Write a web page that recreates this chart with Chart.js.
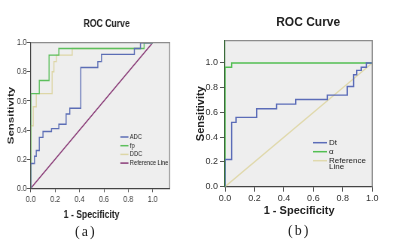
<!DOCTYPE html>
<html>
<head>
<meta charset="utf-8">
<script src="https://cdn.jsdelivr.net/npm/chart.js@4.4.1/dist/chart.umd.min.js"></script>
<style>
  body { margin:0; background:#fff; width:400px; height:243px; overflow:hidden; position:relative; }
  .box { position:absolute; }
  .lab { position:absolute; font-family:"Liberation Serif", "Times New Roman", serif; font-size:14px; color:#222; letter-spacing:2px; }
</style>
</head>
<body>
<!-- panel (a) is a horizontally squeezed SPSS chart in the source, so render wide and squeeze -->
<div class="box" style="left:0;top:0;width:266.7px;height:225px;transform:scaleX(0.75);transform-origin:0 0"><canvas id="rocA"></canvas></div>
<div class="box" style="left:188px;top:0;width:212px;height:221px"><canvas id="rocB"></canvas></div>
<div class="lab" style="left:75px;top:224px">(a)</div>
<div class="lab" style="left:288px;top:223px">(b)</div>
<script>
// ROC curves, two panels (a) and (b)

// panel (a): 1 - specificity / sensitivity per curve
const adcFpr = [0, 0, 0.03, 0.045, 0.07, 0.10, 0.17, 0.23, 0.29, 0.32, 0.41, 0.55, 0.58, 0.85, 0.90, 1.0];
const adcTpr = [0, 0.17, 0.22, 0.26, 0.35, 0.39, 0.41, 0.44, 0.51, 0.55, 0.83, 0.87, 0.92, 0.96, 1.0, 1.0];
const fpFpr  = [0, 0, 0.07, 0.15, 0.23, 0.93, 1.0];
const fpTpr  = [0, 0.65, 0.74, 0.915, 0.96, 1.0, 1.0];
const ddcFpr = [0, 0, 0.02, 0.045, 0.175, 0.19, 0.21, 0.34, 0.90, 1.0];
const ddcTpr = [0, 0.43, 0.56, 0.65, 0.80, 0.87, 0.915, 0.96, 1.0, 1.0];
const refFpr = [0, 1];
const refTpr = [0, 1];

// panel (b)
const dtFpr = [0, 0, 0.045, 0.075, 0.215, 0.35, 0.48, 0.695, 0.83, 0.873, 0.894, 0.925, 0.96, 1.0];
const dtTpr = [0, 0.22, 0.52, 0.56, 0.63, 0.667, 0.705, 0.74, 0.81, 0.905, 0.94, 0.965, 1.0, 1.0];
const alphaFpr = [0, 0, 0.045, 1.0];
const alphaTpr = [0, 0.965, 1.0, 1.0];

const axisTicks = [0, 0.2, 0.4, 0.6, 0.8, 1.0];

const SANS = '"Liberation Sans", Arial, sans-serif';

function pts(xs, ys) { return xs.map((x, i) => ({ x: x, y: ys[i] })); }

function curve(label, xs, ys, color, stepped) {
  return { label, data: pts(xs, ys), borderColor: color, backgroundColor: color,
           borderWidth: 1.4, pointRadius: 0, stepped: stepped ? 'before' : false, tension: 0 };
}

// grey plot panel, frame, titles and an inset legend (SPSS look)
const spssFrame = {
  id: 'spssFrame',
  beforeDraw(chart, args, o) {
    const a = chart.chartArea, ctx = chart.ctx;
    ctx.save();
    ctx.fillStyle = '#eeeeee';
    ctx.fillRect(a.left, a.top, a.right - a.left, a.bottom - a.top);
    ctx.restore();
  },
  afterDatasetsDraw(chart, args, o) {
    const a = chart.chartArea, ctx = chart.ctx;
    ctx.save();
    ctx.strokeStyle = '#8c8c8c';
    ctx.lineWidth = 1.3;
    ctx.beginPath();
    ctx.moveTo(a.left, a.top); ctx.lineTo(a.right, a.top); ctx.lineTo(a.right, a.bottom);
    ctx.stroke();
    ctx.restore();
  },
  afterDraw(chart, args, o) {
    const a = chart.chartArea, ctx = chart.ctx;
    const cx = (a.left + a.right) / 2;
    ctx.save();
    ctx.fillStyle = '#222';
    ctx.textAlign = 'center';
    ctx.textBaseline = 'middle';
    ctx.font = o.titleFont;
    ctx.fillText('ROC Curve', cx + o.titleDx, o.titleY);
    ctx.font = o.xTitleFont;
    ctx.fillText('1 - Specificity', cx + o.xTitleDx, o.xTitleY);

    ctx.textAlign = 'left';
    ctx.font = o.font;
    let y = o.y;
    chart.data.datasets.forEach(ds => {
      ctx.strokeStyle = ds.borderColor;
      ctx.lineWidth = 1.5;
      ctx.beginPath();
      ctx.moveTo(a.left + o.x, y); ctx.lineTo(a.left + o.x + o.lineLen, y);
      ctx.stroke();
      const lines = Array.isArray(ds.legendText) ? ds.legendText : [ds.label];
      lines.forEach((t, k) => ctx.fillText(t, a.left + o.x + o.lineLen + 2, y + k * o.subStep));
      y += o.step;
    });
    ctx.restore();
  }
};

function makeChart(id, cfg) {
  return new Chart(document.getElementById(id), {
    type: 'line',
    data: { datasets: cfg.datasets },
    options: {
      responsive: true, maintainAspectRatio: false, animation: false,
      layout: { padding: { right: cfg.padRight, left: 0, top: cfg.padTop, bottom: 0 } },
      plugins: {
        legend: { display: false }, tooltip: { enabled: false }, title: { display: false },
        spssFrame: cfg.deco
      },
      scales: {
        x: {
          type: 'linear', min: 0, max: cfg.xMax,
          afterBuildTicks: s => { s.ticks = axisTicks.map(v => ({ value: v })); },
          afterFit: s => { s.height = cfg.xHeight; },
          grid: { display: true, drawOnChartArea: false, drawTicks: true, tickLength: cfg.xTickLen, color: '#555' },
          border: { display: true, color: '#444', width: 1.2 },
          ticks: { font: cfg.tickFont, color: '#333', padding: cfg.xTickPad, maxRotation: 0,
                   callback: v => Number(v).toFixed(1) }
        },
        y: {
          type: 'linear', min: 0, max: cfg.yMax,
          afterBuildTicks: s => { s.ticks = axisTicks.map(v => ({ value: v })); },
          afterFit: s => { s.width = cfg.yWidth; },
          grid: { display: true, drawOnChartArea: false, drawTicks: true, tickLength: cfg.yTickLen, color: '#555' },
          border: { display: true, color: cfg.yAxisColor, width: 1.2 },
          ticks: { font: cfg.tickFont, color: '#333', padding: cfg.yTickPad,
                   callback: v => Number(v).toFixed(1) },
          title: { display: true, text: 'Sensitivity', color: '#222', font: cfg.yTitleFont, padding: { top: cfg.yTitlePad, bottom: 0 } }
        }
      }
    },
    plugins: [spssFrame]
  });
}

makeChart('rocA', {
  datasets: [
    curve('ADC', adcFpr, adcTpr, '#5b6db5', true),
    curve('fp', fpFpr, fpTpr, '#5cbf5c', true),
    curve('DDC', ddcFpr, ddcTpr, '#ddd6a6', true),
    curve('Reference Line', refFpr, refTpr, '#8a3c78', false)
  ],
  xMax: 1.14, yMax: 1.0,
  padRight: 41.3, padTop: 42.7, xHeight: 36.7, yWidth: 40.9,
  xTickLen: 4, yTickLen: 5.3, xTickPad: 1, yTickPad: 0,
  tickFont: { family: SANS, size: 9.5 },
  yTitleFont: { family: SANS, size: 11.5, weight: 'bold' }, yTitlePad: 7.8,
  yAxisColor: '#444',
  deco: {
    titleFont: 'bold 11.5px ' + SANS, titleDx: 8.5, titleY: 24,
    xTitleFont: 'bold 11.5px ' + SANS, xTitleDx: -11.5, xTitleY: 215,
    x: 119, y: 137, lineLen: 10.7, step: 8.7, subStep: 0, font: '7.5px ' + SANS
  }
});

const refB = curve('Reference Line', refFpr, refTpr, '#e0d9ad', false);
refB.legendText = ['Reference', 'Line'];
makeChart('rocB', {
  datasets: [
    curve('Dt', dtFpr, dtTpr, '#5b6cb8', true),
    curve('α', alphaFpr, alphaTpr, '#52bf52', true),
    refB
  ],
  xMax: 1.0, yMax: 1.18,
  padRight: 27.7, padTop: 40.7, xHeight: 34.3, yWidth: 37,
  xTickLen: 5, yTickLen: 5, xTickPad: 1, yTickPad: 2,
  tickFont: { family: SANS, size: 9 },
  yTitleFont: { family: SANS, size: 11, weight: 'bold' }, yTitlePad: 6,
  yAxisColor: '#3b6b3b',
  deco: {
    titleFont: 'bold 12px ' + SANS, titleDx: 9.5, titleY: 22.7,
    xTitleFont: 'bold 11px ' + SANS, xTitleDx: 0.5, xTitleY: 210.7,
    x: 88, y: 142.7, lineLen: 14, step: 9, subStep: 6, font: '8px ' + SANS
  }
});
</script>
</body>
</html>
